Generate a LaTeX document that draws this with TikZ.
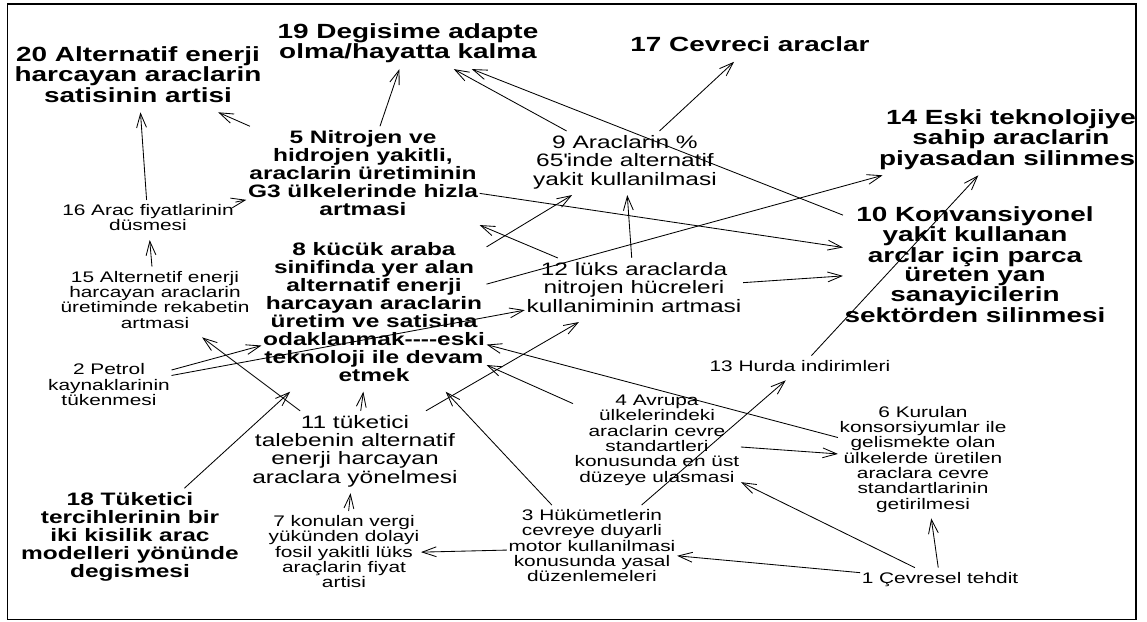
\documentclass[tikz,border=0pt]{standalone}
\usepackage{fontspec}
\setmainfont{Liberation Sans}[FakeStretch=1.36]
\usetikzlibrary{arrows.meta}

\begin{document}
\begin{tikzpicture}[x=0.025cm,y=-0.025cm,>={Straight Barb[length=10pt,width=7pt]},
  concept/.style={align=center,inner xsep=1pt,inner ysep=3pt,
    execute at begin node=\strut,execute at end node=\strut},
  plainsm/.style={concept,font=\fontsize{10.9}{10.9}\selectfont},
  plainmd/.style={concept,font=\fontsize{12.8}{13}\selectfont},
  boldmd/.style={concept,font=\fontsize{12.8}{12.8}\selectfont\bfseries},
  boldlg/.style={concept,font=\fontsize{14.6}{13.5}\selectfont\bfseries},
  link/.style={->,line width=0.6pt}]
\useasboundingbox (0,0) rectangle (1147,621);
\begin{scope}
\clip (7.5,4) rectangle (1136,619.5);
% concepts
\node[boldlg] (n20) at (138,77) {20 Alternatif enerji\\harcayan araclarin\\satisinin artisi};
\node[boldlg] (n19) at (408,44) {19 Degisime adapte\\olma/hayatta kalma};
\node[boldlg] (n17) at (750,47) {17 Cevreci araclar};
\node[boldlg] (n14) at (1011,140) {14 Eski teknolojiye\\sahip araclarin\\piyasadan silinmesi};
\node[boldlg] (n10) at (975,267) {10 Konvansiyonel\\yakit kullanan\\arclar için parca\\üreten yan\\sanayicilerin\\sektörden silinmesi};
\node[boldmd] (n5) at (363,176) {5 Nitrojen ve\\hidrojen yakitli,\\araclarin üretiminin\\G3 ülkelerinde hizla\\artmasi};
\node[boldmd] (n8) at (374,315) {8 kücük araba\\sinifinda yer alan\\alternatif enerji\\harcayan araclarin\\üretim ve satisina\\odaklanmak-{}-{}-{}-eski\\teknoloji ile devam\\etmek};
\node[boldmd] (n18) at (130,538) {18 Tüketici\\tercihlerinin bir\\iki kisilik arac\\modelleri yönünde\\degismesi};
\node[plainmd] (n9) at (625,163) {9 Araclarin \%\\65\textquotesingle inde alternatif\\yakit kullanilmasi};
\node[plainmd] (n12) at (634,290) {12 lüks araclarda\\nitrojen hücreleri\\kullaniminin artmasi};
\node[plainmd] (n11) at (355,452) {11 tüketici\\talebenin alternatif\\enerji harcayan\\araclara yönelmesi};
\node[plainsm] (n16) at (148,220) {16 Arac fiyatlarinin\\düsmesi};
\node[plainsm] (n15) at (155,302) {15 Alternetif enerji\\harcayan araclarin\\üretiminde rekabetin\\artmasi};
\node[plainsm] (n2) at (109,387) {2 Petrol\\kaynaklarinin\\tükenmesi};
\node[plainsm] (n13) at (800,368) {13 Hurda indirimleri};
\node[plainsm] (n4) at (657,441) {4 Avrupa\\ülkelerindeki\\araclarin cevre\\standartleri\\konusunda en üst\\düzeye ulasmasi};
\node[plainsm] (n6) at (923,460) {6 Kurulan\\konsorsiyumlar ile\\gelismekte olan\\ülkelerde üretilen\\araclara cevre\\standartlarinin\\getirilmesi};
\node[plainsm] (n7) at (344,554) {7 konulan vergi\\yükünden dolayi\\fosil yakitli lüks\\araçlarin fiyat\\artisi};
\node[plainsm] (n3) at (592,548) {3 Hükümetlerin\\cevreye duyarli\\motor kullanilmasi\\konusunda yasal\\düzenlemeleri};
\node[plainsm] (n1) at (940,580) {1 Çevresel tehdit};
% links
\draw[link] (n5) -- (n19);
\draw[link] (n5) -- (n20);
\draw[link] (n5) -- (n10);
\draw[link] (n16) -- (n20);
\draw[link] (n16) -- (n5);
\draw[link] (n15) -- (n16);
\draw[link] (n2) -- (n8);
\draw[link] (n2) -- (n12);
\draw[link] (n11) -- (n15);
\draw[link] (n11) -- (n8);
\draw[link] (n11) -- (n12);
\draw[link] (n18) -- (n8);
\draw[link] (n7) -- (n11);
\draw[link] (n3) -- (n7);
\draw[link] (n3) -- (n8);
\draw[link] (n3) -- (n13);
\draw[link] (n1) -- (n3);
\draw[link] (n1) -- (n4);
\draw[link] (n1) -- (n6);
\draw[link] (n4) -- (n6);
\draw[link] (n4) -- (n8);
\draw[link] (n6) -- (n8);
\draw[link] (n13) -- (n14);
\draw[link] (n12) -- (n10);
\draw[link] (n12) -- (n9);
\draw[link] (n12) -- (n5);
\draw[link] (n8) -- (n9);
\draw[link] (n8) -- (n14);
\draw[link] (n9) -- (n17);
\draw[link] (n9) -- (n19);
\draw[link] (n10) -- (n19);
\end{scope}
\draw[line width=1.2pt] (7.5,4) rectangle (1136,619.5);
\end{tikzpicture}
\end{document}
